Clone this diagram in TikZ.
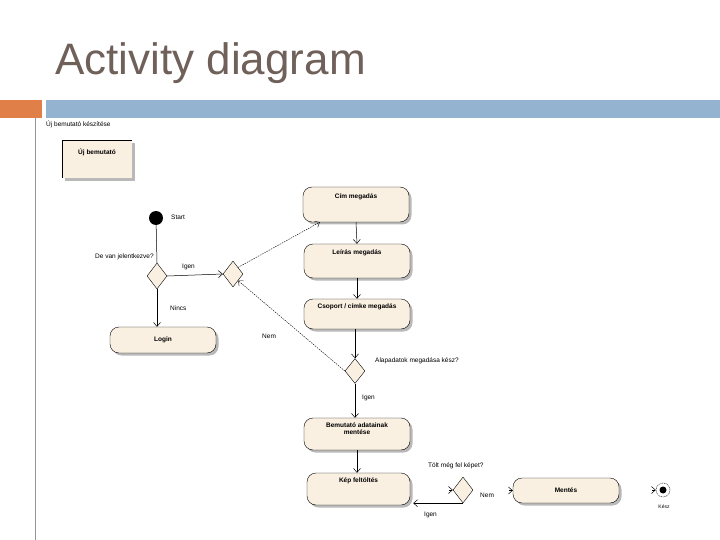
\documentclass[tikz,border=0pt]{standalone}
\usepackage{fontspec}
\setmainfont{Liberation Sans}
\usetikzlibrary{shapes.geometric,arrows.meta,shadows,calc}
\definecolor{titlec}{RGB}{112,96,90}
\definecolor{orangebar}{RGB}{224,128,72}
\definecolor{bluebar}{RGB}{148,179,208}
\definecolor{cream}{RGB}{250,240,226}
\definecolor{vline}{RGB}{150,150,150}
\tikzset{
  small/.style={font=\fontsize{6.5}{7.5}\selectfont, inner sep=0pt},
  act/.style={draw, thin, fill=cream, rounded corners=9pt, minimum width=106pt, minimum height=33pt,
    font=\fontsize{6.5}{7.5}\selectfont\bfseries, align=center,
    drop shadow={shadow xshift=2.5pt, shadow yshift=-2.5pt, fill=gray!55, opacity=1}},
  dec/.style={draw, thin, fill=cream, diamond, minimum width=20pt, minimum height=26pt, inner sep=0pt},
  flow/.style={draw, line width=0.5pt, -{Straight Barb[length=4pt,width=7pt]}},
  dflow/.style={draw, line width=0.4pt, dash pattern=on 1.5pt off 1pt, -{Straight Barb[length=4pt,width=7pt]}},
  tip/.style={-{Straight Barb[length=4pt,width=7pt]}, line width=0.5pt},
}
\begin{document}
\begin{tikzpicture}[x=1pt,y=-1pt]
\useasboundingbox (0,0) rectangle (720,540);
% slide decoration
\fill[orangebar] (0,100) rectangle (42,118);
\fill[bluebar] (46,100) rectangle (720,118);
\draw[vline, line width=1pt] (35,118) -- (35,540);
\node[anchor=base west, text=titlec, font=\fontsize{44}{48}\selectfont, inner sep=0pt] (title) at (55,75) {Activity diagram};
\node[small, anchor=west] (sheet) at (46,124) {Új bemutató készítése};
% Új bemutató box
\fill[gray!55] (65,143) rectangle (135,181);
\fill[cream] (62,140) rectangle (132,178);
\draw[thin] (62,178) -- (62,140) -- (132,140);
\node[small, font=\fontsize{6.5}{7.5}\selectfont\bfseries] (uj) at (97,152) {Új bemutató};
% start
\node[circle, fill=black, minimum size=14pt, inner sep=0pt] (start) at (156,218) {};
\node[small, anchor=west] (startl) at (171,217) {Start};
% decision 1
\node[small, anchor=west] (q1) at (95,257) {De van jelentkezve?};
\node[dec] (d1) at (157,276) {};
\node[dec] (d2) at (233,274) {};
\node[act, minimum width=106pt, minimum height=26pt] (login) at (163,340) {Login};
% right column
\node[act, minimum height=35pt] (cim) at (356,204.5) {Cím megadás\\[10pt]};
\node[act, minimum height=34pt] (leiras) at (357,261) {Leírás megadás\\[10pt]};
\node[act, minimum height=30pt] (csoport) at (357,314) {Csoport / címke megadás\\[8pt]};
\node[dec, minimum height=25pt] (d3) at (355,371) {};
\node[small, anchor=west] (q3) at (375,361) {Alapadatok megadása kész?};
\node[act, minimum height=32pt] (mentese) at (357,434) {Bemutató adatainak\\mentése\\[3pt]};
\node[act, minimum height=32pt, minimum width=103pt] (kep) at (358.5,489) {Kép feltöltés\\[10pt]};
\node[dec] (d4) at (463,490) {};
\node[small, anchor=west] (q4) at (428,466) {Tölt még fel képet?};
\node[act, minimum height=25pt] (mentes) at (566,490.5) {Mentés};
% final node
\node[circle, draw, thin, dash pattern=on 1pt off 0.8pt, minimum size=14pt, inner sep=0pt] (final) at (663,490) {};
\fill (final.center) circle (3.5pt);
\node[small, font=\fontsize{5}{6}\selectfont] (kesz) at (664,507) {Kész};
% connectors
\draw[line width=0.5pt] (start) -- (d1.north);
\draw[flow] (d1.east) -- (d2.west);
\node[small, anchor=west] (igen1) at (182,267) {Igen};
\draw[flow] (d1.south) -- (d1.south |- login.north);
\node[small, anchor=west] (nincs) at (170,308) {Nincs};
\coordinate (cimin) at ($(cim.south west)+(17,0)$);
\draw[dflow] (d2.north east) -- (cimin);
\draw[flow] (cim.south) -- (leiras.north);
\draw[flow] (leiras.south) -- (csoport.north);
\draw[flow] (csoport.south -| d3.north) -- (d3.north);
\draw[dflow] (d3.west) -- (d2.south east);
\node[small, anchor=west] (nem1) at (262,336) {Nem};
\draw[flow] (d3.south) -- (mentese.north -| d3.south);
\node[small, anchor=west] (igen2) at (362,398) {Igen};
\draw[flow] (mentese.south) -- (kep.north -| mentese.south);
\draw[tip] ($(d4.west)+(-3.9,0)$) -- (d4.west);
\coordinate (kepin) at ($(kep.south east)+(3,0)$);
\draw[flow] (d4.south) -- (d4.south -| kepin);
\node[small, anchor=west] (igen3) at (424,515) {Igen};
\node[small, anchor=west] (nem2) at (480,495) {Nem};
\draw[tip] ($(mentes.west)+(-3.9,0)$) -- (mentes.west);
\draw[tip] ($(final.west)+(-3.9,0)$) -- (final.west);
\end{tikzpicture}
\end{document}
